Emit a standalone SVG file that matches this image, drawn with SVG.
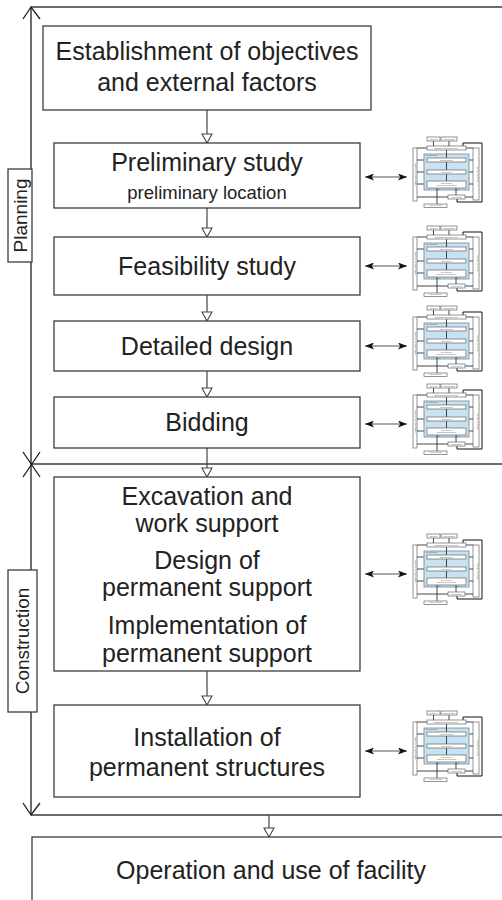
<svg xmlns="http://www.w3.org/2000/svg" xmlns:xlink="http://www.w3.org/1999/xlink" width="502" height="900" viewBox="0 0 502 900">
  <style>
    .box { fill: #fff; stroke: #3c3c3c; stroke-width: 1.3; }
    .t { font-family: "Liberation Sans", Arial, sans-serif; font-size: 25px; fill: #222; text-anchor: middle; }
    .ts { font-size: 18.5px; }
    .lab { font-family: "Liberation Sans", Arial, sans-serif; font-size: 19px; fill: #222; text-anchor: middle; }
    .flow { stroke: #444; stroke-width: 1.2; fill: none; }
    .link { stroke: #555; stroke-width: 1.2; fill: none; }
    .bracket { stroke: #1c1c1c; stroke-width: 1.3; fill: none; }
    .rule { stroke: #3c3c3c; stroke-width: 1.3; fill: none; }
    .tb { fill: #fff; stroke: #666; stroke-width: 0.7; }
    .tblue { fill: #c9e2f1; stroke: #6f8594; stroke-width: 0.8; }
    .tl { stroke: #1a1a1a; stroke-width: 0.8; fill: none; }
    .tloop { stroke: #111; stroke-width: 1; fill: none; }
    .tt { font-family: "Liberation Sans", Arial, sans-serif; font-size: 1.6px; fill: #555; text-anchor: middle; }
  </style>
  <defs>
    <marker id="tri" viewBox="-1 -1 11 12" refX="9" refY="5" markerWidth="11" markerHeight="12" markerUnits="userSpaceOnUse" orient="auto">
      <path d="M0,0 L9,5 L0,10 Z" fill="#fff" stroke="#444" stroke-width="1.1"/>
    </marker>
    <marker id="barb" viewBox="0 0 9 7" refX="9" refY="3.5" markerWidth="9" markerHeight="7" markerUnits="userSpaceOnUse" orient="auto-start-reverse">
      <path d="M0,0 L9,3.5 L0,7 L2.2,3.5 Z" fill="#111"/>
    </marker>
    <!-- miniature risk-management flow chart -->
    <g id="rm-chart">
      <path class="tloop" d="M63,-31V-34H82V25H57V22"/>
      <rect class="tb" x="13" y="-29" width="4" height="53"/>
      <rect class="tb" x="73" y="-29" width="6" height="52"/>
      <path class="tl" d="M17,-29H27 M17,-17H24 M17,-5H24 M17,7H24 M17,20H48 M66,-29H73 M69,-17H73 M69,-5H73 M69,7H73 M65,20H73"/>
      <rect class="tblue" x="24" y="-23" width="45" height="36"/>
      <path class="tl" d="M33.5,-36V-31 M49,-36V-31 M46.5,-27V-19 M46.5,-15V-7 M46.5,-3V4 M37,11V27 M56,11V18"/>
      <rect class="tb" x="27" y="-40" width="13" height="4"/>
      <rect class="tb" x="41" y="-40" width="16" height="4"/>
      <rect class="tb" x="27" y="-31" width="39" height="4"/>
      <rect class="tb" x="27" y="-19" width="39" height="4"/>
      <rect class="tb" x="27" y="-7" width="39" height="4"/>
      <rect class="tb" x="27" y="4" width="39" height="7"/>
      <rect class="tb" x="48" y="18" width="17" height="4"/>
      <rect class="tb" x="24" y="27" width="23" height="3.5"/>
      <text class="tt" x="33.5" y="-37.4">Objectives</text>
      <text class="tt" x="49" y="-37.4">External factors</text>
      <text class="tt" x="46.5" y="-28.4">Establishing geotechnical context</text>
      <text class="tt" x="31.5" y="-21">Risk assessment</text>
      <text class="tt" x="46.5" y="-16.4">Risk identification</text>
      <text class="tt" x="46.5" y="-4.4">Risk analysis</text>
      <text class="tt" x="46.5" y="6.8">Risk evaluation</text>
      <text class="tt" x="46.5" y="9.2">(satisfying risk acceptance?)</text>
      <text class="tt" x="39" y="13">Yes</text>
      <text class="tt" x="58" y="13">No</text>
      <text class="tt" x="56.5" y="20.6">Risk treatment</text>
      <text class="tt" x="35.5" y="29.4">Activity completion</text>
      <text class="tt" transform="translate(15.6,-2.5) rotate(-90)">Communication and consultation</text>
      <text class="tt" transform="translate(76.6,-3) rotate(90)">Monitoring and review</text>
    </g>
  </defs>

  <rect width="502" height="900" fill="#fff"/>

  <!-- phase brackets and dividing rules -->
  <g id="brackets">
    <path class="rule" d="M31,7H502 M31,464H502 M31,815H502"/>
    <path class="bracket" d="M31,7V815"/>
    <path class="bracket" d="M23,19L31,7L40,19"/>
    <path class="bracket" d="M23,452L40,477 M40,452L23,477"/>
    <path class="bracket" d="M23,803L31,815L40,803"/>
  </g>

  <g id="label-planning">
    <rect class="box" x="8" y="169" width="24" height="93"/>
    <text class="lab" transform="translate(26.5,215.5) rotate(-90)">Planning</text>
  </g>
  <g id="label-construction">
    <rect class="box" x="8" y="570" width="29" height="142"/>
    <text class="lab" transform="translate(29,641) rotate(-90)">Construction</text>
  </g>

  <!-- connectors -->
  <g id="connectors">
    <path class="flow" marker-end="url(#tri)" d="M207,110V143"/>
    <path class="flow" marker-end="url(#tri)" d="M207,208V237"/>
    <path class="flow" marker-end="url(#tri)" d="M207,295V321"/>
    <path class="flow" marker-end="url(#tri)" d="M207,371V397"/>
    <path class="flow" marker-end="url(#tri)" d="M207,448V477"/>
    <path class="flow" marker-end="url(#tri)" d="M207,671V705"/>
    <path class="flow" marker-end="url(#tri)" d="M269,815V837"/>
    <path class="link" marker-start="url(#barb)" marker-end="url(#barb)" d="M365,177H407"/>
    <path class="link" marker-start="url(#barb)" marker-end="url(#barb)" d="M365,266H407"/>
    <path class="link" marker-start="url(#barb)" marker-end="url(#barb)" d="M365,346H407"/>
    <path class="link" marker-start="url(#barb)" marker-end="url(#barb)" d="M365,424H407"/>
    <path class="link" marker-start="url(#barb)" marker-end="url(#barb)" d="M365,574H407"/>
    <path class="link" marker-start="url(#barb)" marker-end="url(#barb)" d="M365,751H407"/>
  </g>

  <!-- process steps -->
  <g id="objectives">
    <rect class="box" x="43" y="26" width="328" height="84"/>
    <text class="t" x="207" y="60">Establishment of objectives</text>
    <text class="t" x="207" y="91">and external factors</text>
  </g>
  <g id="preliminary-study">
    <rect class="box" x="54" y="143" width="306" height="65"/>
    <text class="t" x="207" y="171">Preliminary study</text>
    <text class="t ts" x="207" y="199">preliminary location</text>
  </g>
  <g id="feasibility-study">
    <rect class="box" x="54" y="237" width="306" height="58"/>
    <text class="t" x="207" y="275">Feasibility study</text>
  </g>
  <g id="detailed-design">
    <rect class="box" x="54" y="321" width="306" height="50"/>
    <text class="t" x="207" y="355">Detailed design</text>
  </g>
  <g id="bidding">
    <rect class="box" x="54" y="397" width="306" height="51"/>
    <text class="t" x="207" y="431">Bidding</text>
  </g>
  <g id="excavation">
    <rect class="box" x="54" y="477" width="306" height="194"/>
    <text class="t" x="207" y="505">Excavation and</text>
    <text class="t" x="207" y="532">work support</text>
    <text class="t" x="207" y="569">Design of</text>
    <text class="t" x="207" y="596">permanent support</text>
    <text class="t" x="207" y="634">Implementation of</text>
    <text class="t" x="207" y="662">permanent support</text>
  </g>
  <g id="installation">
    <rect class="box" x="54" y="705" width="306" height="92"/>
    <text class="t" x="207" y="746">Installation of</text>
    <text class="t" x="207" y="776">permanent structures</text>
  </g>
  <g id="operation">
    <rect class="box" x="32" y="837" width="490" height="80"/>
    <text class="t" x="271" y="879">Operation and use of facility</text>
  </g>

  <!-- risk management charts beside each step -->
  <g id="rm-preliminary"><use xlink:href="#rm-chart" x="400" y="177"/></g>
  <g id="rm-feasibility"><use xlink:href="#rm-chart" x="400" y="266"/></g>
  <g id="rm-detailed"><use xlink:href="#rm-chart" x="400" y="346"/></g>
  <g id="rm-bidding"><use xlink:href="#rm-chart" x="400" y="424"/></g>
  <g id="rm-excavation"><use xlink:href="#rm-chart" x="400" y="574"/></g>
  <g id="rm-installation"><use xlink:href="#rm-chart" x="400" y="751"/></g>
</svg>
